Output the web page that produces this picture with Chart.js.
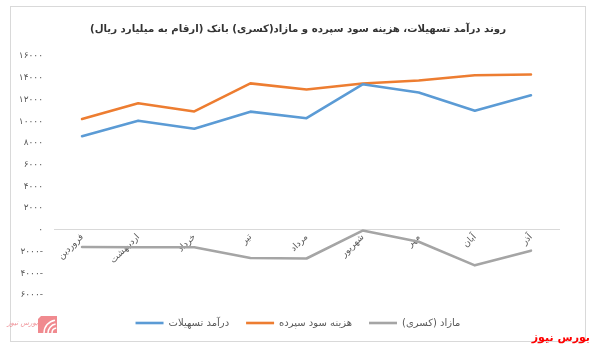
<!DOCTYPE html>
<html lang="fa">
<head>
<meta charset="utf-8">
<script src="https://cdn.jsdelivr.net/npm/chart.js@4.4.1/dist/chart.umd.min.js"></script>
<style>
  html, body { margin: 0; padding: 0; background: #fff; }
  #wrap { width: 596px; height: 347px; position: relative; }
  canvas { direction: rtl; }
</style>
</head>
<body>
<div id="wrap"><canvas id="c" dir="rtl" width="596" height="347"></canvas></div>
<script>
// Months (Farvardin .. Azar)
const months = ['فروردین', 'اردیبهشت', 'خرداد', 'تیر', 'مرداد', 'شهریور', 'مهر', 'آبان', 'آذر'];

// Figures in billion rials
const loanIncome = [8620, 10050, 9300, 10880, 10280, 13400, 12650, 10960, 12380];
const depositCost = [10200, 11650, 10900, 13480, 12920, 13470, 13750, 14230, 14300];
const surplus = [-1580, -1600, -1600, -2600, -2640, -70, -1100, -3270, -1920];

const seriesNames = ['درآمد تسهیلات', 'هزینه سود سپرده', 'مازاد (کسری)'];
const seriesColors = ['#5B9BD5', '#ED7D31', '#A5A5A5'];
const chartTitle = 'روند درآمد تسهیلات، هزینه سود سپرده و مازاد(کسری) بانک (ارقام به میلیارد ریال)';
const brandText = 'بورس نیوز';

const yMin = -6000, yMax = 16000, yStep = 2000;

const faDigits = '۰۱۲۳۴۵۶۷۸۹';
function toFa(n) {
  const s = String(Math.abs(n)).replace(/\d/g, d => faDigits[d]);
  return n < 0 ? '-' + s : s;
}

const FONT = "'DejaVu Sans', sans-serif";
const GREY_TEXT = '#595959';
const LINE_W = 2.6;

// white background, outer frame and source marks
const decor = {
  id: 'decor',
  beforeDraw(chart) {
    const ctx = chart.ctx;
    ctx.save();
    ctx.fillStyle = '#ffffff';
    ctx.fillRect(0, 0, chart.width, chart.height);
    ctx.strokeStyle = '#d9d9d9';
    ctx.lineWidth = 1;
    ctx.strokeRect(10.5, 6.5, 575, 335);
    ctx.restore();
  },
  afterDraw(chart) {
    const ctx = chart.ctx;
    ctx.save();
    ctx.direction = 'ltr';
    // small logo, bottom left
    ctx.fillStyle = '#f08a8f';
    ctx.beginPath();
    ctx.moveTo(41, 316); ctx.lineTo(57, 316); ctx.lineTo(57, 333); ctx.lineTo(38, 333); ctx.lineTo(38, 319);
    ctx.closePath();
    ctx.fill();
    ctx.strokeStyle = '#ffffff';
    ctx.lineWidth = 1.5;
    for (let r = 5; r <= 13; r += 4) {
      ctx.beginPath();
      ctx.arc(57, 333, r, Math.PI, Math.PI * 1.45);
      ctx.stroke();
    }
    ctx.fillStyle = 'rgba(236,120,128,0.8)';
    ctx.font = "italic 7px " + FONT;
    ctx.textAlign = 'right';
    ctx.textBaseline = 'middle';
    ctx.fillText(brandText, 38, 323);
    // brand text, bottom right
    ctx.fillStyle = '#ff0000';
    ctx.font = "bold 11px " + FONT;
    ctx.textAlign = 'right';
    ctx.textBaseline = 'alphabetic';
    ctx.fillText(brandText, 590, 341);
    ctx.restore();
  }
};

new Chart(document.getElementById('c'), {
  type: 'line',
  data: {
    labels: months,
    datasets: [
      { label: seriesNames[0], data: loanIncome, borderColor: seriesColors[0], backgroundColor: seriesColors[0], borderWidth: LINE_W },
      { label: seriesNames[1], data: depositCost, borderColor: seriesColors[1], backgroundColor: seriesColors[1], borderWidth: LINE_W },
      { label: seriesNames[2], data: surplus, borderColor: seriesColors[2], backgroundColor: seriesColors[2], borderWidth: LINE_W }
    ]
  },
  options: {
    responsive: false,
    animation: false,
    devicePixelRatio: 1,
    layout: { padding: { left: 10, right: 10, top: 6, bottom: 9 } },
    elements: {
      line: { tension: 0, borderCapStyle: 'round', borderJoinStyle: 'round' },
      point: { radius: 0, hoverRadius: 0 }
    },
    scales: {
      x: {
        offset: true,
        position: { y: 0 },
        grid: { display: false, drawTicks: false, offset: true },
        border: { display: true, color: '#d9d9d9', width: 1 },
        ticks: {
          color: GREY_TEXT,
          font: { family: FONT, size: 9 },
          minRotation: 45,
          maxRotation: 45,
          padding: 2,
          autoSkip: false
        }
      },
      // spacer between plot and legend
      xSpace: {
        type: 'category',
        labels: months,
        position: 'bottom',
        grid: { display: false, drawTicks: false },
        border: { display: false },
        ticks: { display: false },
        afterFit(scale) { scale.height = 6; }
      },
      y: {
        min: yMin,
        max: yMax,
        grid: { display: false, drawTicks: false },
        border: { display: false },
        ticks: {
          stepSize: yStep,
          color: GREY_TEXT,
          font: { family: FONT, size: 9 },
          padding: 11,
          callback: v => toFa(v)
        },
        afterFit(scale) { scale.width = 44; }
      },
      // right margin inside the frame
      ySpace: {
        type: 'linear',
        position: 'right',
        grid: { display: false, drawTicks: false },
        border: { display: false },
        ticks: { display: false },
        afterFit(scale) { scale.width = 27; }
      }
    },
    plugins: {
      title: {
        display: true,
        text: chartTitle,
        color: '#333333',
        font: { family: FONT, size: 10.2, weight: 'bold' },
        padding: { top: 17.5, bottom: 20.3 }
      },
      legend: {
        position: 'bottom',
        labels: {
          color: GREY_TEXT,
          font: { family: FONT, size: 10 },
          usePointStyle: true,
          pointStyle: 'line',
          pointStyleWidth: 28,
          padding: 17
        }
      },
      tooltip: { enabled: false }
    }
  },
  plugins: [decor]
});
</script>
</body>
</html>
